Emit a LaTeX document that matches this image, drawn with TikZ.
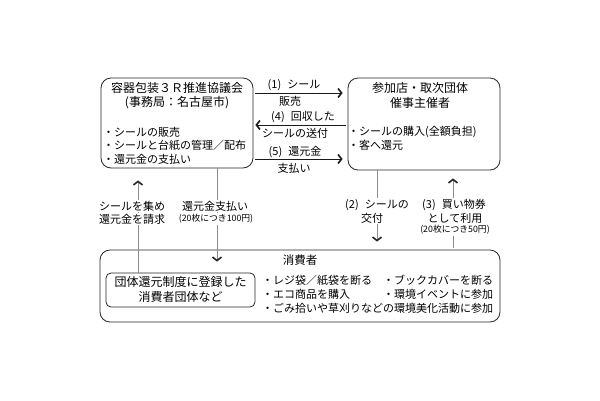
\documentclass[tikz,border=0pt]{standalone}
\usepackage{fontspec}
\setmainfont{Noto Sans CJK JP}
\usetikzlibrary{arrows.meta}
\begin{document}
\begin{tikzpicture}[x=1pt,y=-1pt,
  box/.style={draw=black!85,line width=0.8pt,rounded corners=10pt,inner sep=0pt},
  ibox/.style={draw=black!85,line width=0.8pt,rounded corners=5pt,inner sep=0pt},
  ttl/.style={font=\fontsize{12}{14}\selectfont,inner sep=0pt},
  txt/.style={font=\fontsize{11}{13}\selectfont,inner sep=0pt,anchor=west},
  lbl/.style={font=\fontsize{11}{13}\selectfont,inner sep=1pt},
  vlbl/.style={font=\fontsize{11}{13}\selectfont,inner sep=1pt,fill=white},
  small/.style={font=\fontsize{8.8}{10}\selectfont,inner sep=1pt,fill=white},
  harrow/.style={draw=black!90,line width=1pt,-{Straight Barb[length=3.5pt,width=9pt,line width=1.6pt]}},
  varrow/.style={draw=black!45,line width=1pt,-{Straight Barb[length=3.5pt,width=9pt,line width=1.6pt,color=black!85]}}
]
\useasboundingbox (0,0) rectangle (600,400);
% boxes
\node[box,minimum width=152pt,minimum height=90pt] (L) at (177,123) {};
\node[box,minimum width=152pt,minimum height=92pt] (R) at (424,124) {};
\node[box,minimum width=400pt,minimum height=72pt] (B) at (300,286) {};
\node[ibox,minimum width=149pt,minimum height=34pt] (I) at (180.5,290) {};
% left box text
\node[ttl] (Lt1) at (177,88) {容器包装３Ｒ推進協議会};
\node[ttl] (Lt2) at (177,103) {(事務局：名古屋市)};
\node[txt] (Lb1) at (103,132) {・シールの販売};
\node[txt] (Lb2) at (103,145.5) {・シールと台紙の管理／配布};
\node[txt] (Lb3) at (103,159) {・還元金の支払い};
% right box text
\node[ttl] (Rt1) at (420,88) {参加店・取次団体};
\node[ttl] (Rt2) at (420,103) {催事主催者};
\node[txt] (Rb1) at (348,132) {・シールの購入(全額負担)};
\node[txt] (Rb2) at (348,145.5) {・客へ還元};
% bottom box text
\node[ttl,font=\fontsize{11.5}{13}\selectfont] (Bt) at (300,260) {消費者};
\node[ttl] (It1) at (180.5,282) {団体還元制度に登録した};
\node[ttl] (It2) at (180.5,297) {消費者団体など};
\node[txt] (Bb1) at (262,280) {・レジ袋／紙袋を断る};
\node[txt] (Bb2) at (383,280) {・ブックカバーを断る};
\node[txt] (Bb3) at (262,294) {・エコ商品を購入};
\node[txt] (Bb4) at (383,294) {・環境イベントに参加};
\node[txt] (Bb5) at (262,308) {・ごみ拾いや草刈りなどの環境美化活動に参加};
% coordinates for connector positions
\coordinate (y1) at (0,93);
\coordinate (y4) at (0,125);
\coordinate (y5) at (0,159);
\coordinate (x1) at (138,0);
\coordinate (x2) at (217,0);
\coordinate (x3) at (377,0);
\coordinate (x4) at (453,0);
% horizontal arrows
\draw[harrow,shorten <=2pt,shorten >=5pt] (L.east |- y1) -- (R.west |- y1);
\draw[harrow,shorten <=2pt,shorten >=2pt] (R.west |- y4) -- (L.east |- y4);
\draw[harrow,shorten <=2pt,shorten >=5pt] (L.east |- y5) -- (R.west |- y5);
\node[lbl] (a1t) at (294,85) {(1)\hspace{6pt}シール};
\node[lbl] (a1b) at (290,101) {販売};
\node[lbl] (a4t) at (303,117) {(4)\hspace{6pt}回収した};
\node[lbl] (a4b) at (295,133) {シールの送付};
\node[lbl] (a5t) at (295,152) {(5)\hspace{6pt}還元金};
\node[lbl] (a5b) at (294,168) {支払い};
% vertical arrows
\draw[varrow,shorten >=12pt] (I.north -| x1) -- (L.south -| x1);
\draw[varrow,shorten >=11pt] (L.south -| x2) -- (I.north -| x2);
\draw[varrow,shorten >=8pt] (R.south -| x3) -- (B.north -| x3);
\draw[varrow,shorten <=2pt,shorten >=8pt] (B.north -| x4) -- (R.south -| x4);
\node[vlbl] (v1a) at (132,206) {シールを集め};
\node[vlbl] (v1b) at (132,219) {還元金を請求};
\node[vlbl] (v2a) at (215,206) {還元金支払い};
\node[small] (v2b) at (216,219) {(20枚につき100円)};
\node[vlbl] (v3a) at (377,205) {(2)\hspace{6pt}シールの};
\node[vlbl] (v3b) at (372,218) {交付};
\node[vlbl] (v4a) at (454,205) {(3)\hspace{6pt}買い物券};
\node[vlbl] (v4b) at (455,218) {として利用};
\node[small] (v4c) at (455,230) {(20枚につき50円)};
\end{tikzpicture}
\end{document}
